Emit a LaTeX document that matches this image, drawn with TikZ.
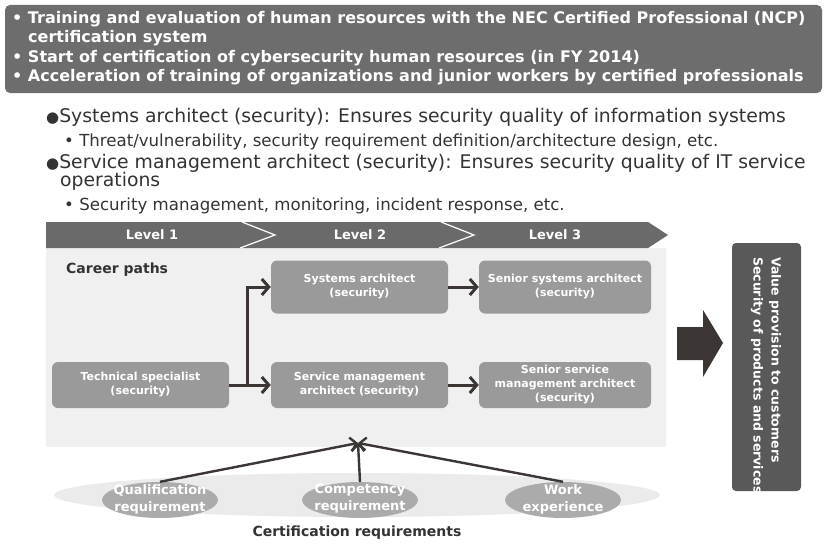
\documentclass[tikz,border=0pt]{standalone}
\usepackage{fontspec}
\setmainfont{DejaVu Sans}
\usetikzlibrary{arrows.meta,shapes.geometric}

\definecolor{hdr}{HTML}{6D6D6D}
\definecolor{barc}{HTML}{6A6A6A}
\definecolor{panelc}{HTML}{F0F0F0}
\definecolor{boxc}{HTML}{9A9A9A}
\definecolor{darkc}{HTML}{3B3634}
\definecolor{txtc}{HTML}{333333}
\definecolor{rboxc}{HTML}{595959}
\definecolor{ellc}{HTML}{EBEBEB}
\definecolor{sellc}{HTML}{ABABAB}

\tikzset{
  hdrline/.style={anchor=west, inner sep=0pt, text=white, font=\fontsize{16}{18}\selectfont\bfseries, text height=1.5ex, text depth=.3ex},
  bodyline/.style={anchor=west, inner sep=0pt, text=txtc, font=\fontsize{18.8}{21}\selectfont, text height=1.5ex, text depth=.3ex},
  subline/.style={anchor=west, inner sep=0pt, text=txtc, font=\fontsize{16.6}{19}\selectfont, text height=1.5ex, text depth=.3ex},
  levellbl/.style={text=white, font=\fontsize{13}{15}\selectfont\bfseries},
  pathbox/.style={fill=boxc, rounded corners=6pt, text=white, align=center, inner sep=0pt,
    font=\fontsize{11}{14}\selectfont\bfseries},
  barb/.style={draw=darkc, line width=3pt, -{Straight Barb[length=7pt,width=16pt]}},
  reqarrow/.style={draw=darkc, line width=2.4pt, -{Straight Barb[length=6pt,width=14pt]}},
  reqell/.style={ellipse, fill=sellc, minimum width=116pt, minimum height=36pt, inner sep=0pt},
  reqtxt/.style={text=white, align=center, font=\fontsize{13}{17}\selectfont\bfseries},
}

\begin{document}
\begin{tikzpicture}[x=1pt,y=-1pt]
\useasboundingbox (0,0) rectangle (824,543);
\fill[white] (0,0) rectangle (824,543);

% summary banner
\fill[hdr, rounded corners=5pt] (5,5) rectangle (822,93);
\node[hdrline] (h1) at (12,20)   {• Training and evaluation of human resources with the NEC Certified Professional (NCP)};
\node[hdrline] (h2) at (28,39.5) {certification system};
\node[hdrline] (h3) at (12,59)   {• Start of certification of cybersecurity human resources (in FY 2014)};
\node[hdrline] (h4) at (12,78.5) {• Acceleration of training of organizations and junior workers by certified professionals};

% role descriptions
\node[bodyline] (b1) at (46,119) {{\fontsize{15}{17}\selectfont●}Systems architect (security): Ensures security quality of information systems};
\node[subline]  (b2) at (64,143) {• Threat/vulnerability, security requirement definition/architecture design, etc.};
\node[bodyline] (b3) at (46,165) {{\fontsize{15}{17}\selectfont●}Service management architect (security): Ensures security quality of IT service};
\node[bodyline] (b4) at (60,183) {operations};
\node[subline]  (b5) at (64,207) {• Security management, monitoring, incident response, etc.};

% career panel and level bar
\fill[panelc] (46,248) rectangle (666,447);
\fill[barc] (46,222) -- (648,222) -- (668,235) -- (648,248) -- (46,248) -- cycle;
\draw[white, line width=1.2pt] (242,222) -- (275,235) -- (240,248);
\draw[white, line width=1.2pt] (441,222) -- (474,235) -- (439,248);
\node[levellbl] (l1) at (152,235) {Level 1};
\node[levellbl] (l2) at (360,235) {Level 2};
\node[levellbl] (l3) at (555,235) {Level 3};

\node[anchor=west, inner sep=0pt, text=txtc, font=\fontsize{14}{16}\selectfont\bfseries] (cp) at (66,270) {Career paths};

% career path boxes
\node[pathbox, minimum width=177pt, minimum height=46pt] (tech) at (140.5,385) {Technical specialist\\(security)};
\node[pathbox, minimum width=177pt, minimum height=46pt] (svc)  at (359.5,385) {Service management\\architect (security)};
\node[pathbox, minimum width=172pt, minimum height=46pt] (ssvc) at (565,385)   {Senior service\\management architect\\(security)};
\node[pathbox, minimum width=177pt, minimum height=53pt] (sys)  at (359.5,287) {Systems architect\\(security)};
\node[pathbox, minimum width=172pt, minimum height=53pt] (ssys) at (565,287)   {Senior systems architect\\(security)};

\coordinate (branch) at (249,385);
\draw[barb] (tech.east) -- (svc.west);
\draw[barb] ([xshift=-1.5pt]branch) |- (sys.west);
\draw[barb] (sys.east) -- (ssys.west);
\draw[barb] (svc.east) -- (ssvc.west);

% certification requirements
\node[ellipse, fill=ellc, minimum width=606pt, minimum height=44pt, inner sep=0pt] (certell) at (357,495) {};
\node[reqell] (qual) at (160,500) {};
\node[reqell] (comp) at (360,500) {};
\node[reqell] (work) at (563,500) {};
\node[reqtxt] at ([yshift=1pt]qual) {Qualification\\requirement};
\node[reqtxt] at ([yshift=1pt]comp) {Competency\\requirement};
\node[reqtxt] at ([yshift=1pt]work) {Work\\experience};
\coordinate (goal) at (358,443);
\draw[reqarrow] (qual.north) -- (goal);
\draw[reqarrow] (comp.north) -- (goal);
\draw[reqarrow] (work.north) -- (goal);
\node[text=txtc, font=\fontsize{14}{16}\selectfont\bfseries] (certlbl) at (357,533) {Certification requirements};

% value provision
\fill[darkc] (677,327) -- (703,327) -- (703,310) -- (723,343) -- (703,377) -- (703,360) -- (677,360) -- cycle;
\node[fill=rboxc, rounded corners=4pt, minimum width=69pt, minimum height=248pt, inner sep=0pt] (vbox) at (766.5,367) {};
\node[rotate=-90, anchor=west, inner sep=0pt, text=white, font=\fontsize{12.5}{14}\selectfont\bfseries] (v1) at (775,257) {Value provision to customers};
\node[rotate=-90, anchor=west, inner sep=0pt, text=white, font=\fontsize{12.5}{14}\selectfont\bfseries] (v2) at (757,257) {Security of products and services};
\end{tikzpicture}
\end{document}
